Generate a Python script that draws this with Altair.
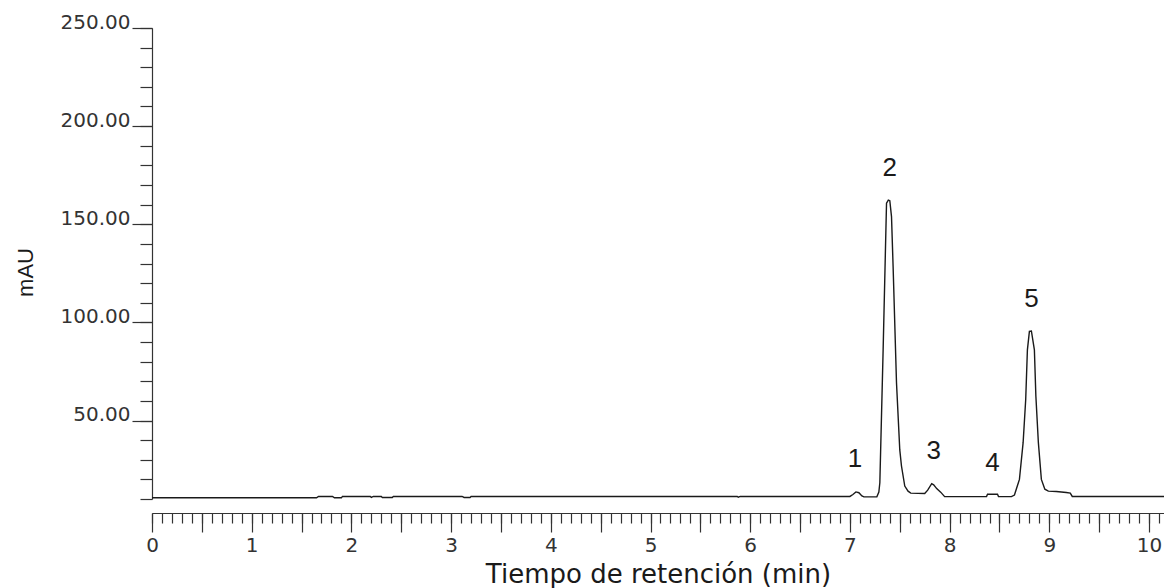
import altair as alt
import pandas as pd

# Chromatogram trace (time in min, absorbance in mAU)
time_min = [0.00, 1.65, 1.67, 1.81, 1.83, 1.90, 1.91, 2.19, 2.20, 2.22, 2.30, 2.31,
            2.41, 2.42, 3.11, 3.13, 3.19, 3.20, 5.87, 5.88, 5.90, 7.00, 7.03, 7.06,
            7.09, 7.12, 7.14, 7.27, 7.29, 7.30, 7.333, 7.367, 7.385, 7.40, 7.417,
            7.433, 7.467, 7.50, 7.517, 7.55, 7.583, 7.61, 7.75, 7.78, 7.82, 7.84,
            7.87, 7.91, 7.95, 8.37, 8.38, 8.48, 8.49, 8.62, 8.65, 8.70, 8.737,
            8.763, 8.78, 8.80, 8.82, 8.85, 8.865, 8.89, 8.92, 8.955, 8.99, 9.07,
            9.17, 9.21, 9.23, 10.15]
mau = [10.6, 10.6, 11.3, 11.3, 10.6, 10.6, 11.3, 11.3, 10.8, 11.3, 11.3, 10.8,
       10.8, 11.3, 11.3, 10.8, 10.8, 11.3, 11.3, 10.9, 11.3, 11.3, 12.3, 13.6,
       13.2, 11.6, 11.1, 11.1, 13.5, 18.3, 86.1, 160.7, 162.3, 162.0, 153.9,
       128.5, 69.2, 35.0, 26.8, 16.6, 14.0, 13.0, 12.8, 14.5, 17.8, 17.2,
       15.3, 13.5, 11.2, 11.2, 12.4, 12.4, 11.2, 11.2, 12.0, 20.0, 38.7,
       60.7, 86.0, 95.4, 95.6, 86.0, 62.4, 38.7, 20.0, 15.0, 14.0, 13.8,
       13.3, 13.0, 11.3, 11.3]

peak_labels = ["1", "2", "3", "4", "5"]
peak_label_time = [7.05, 7.40, 7.84, 8.43, 8.82]
peak_label_mau = [30.5, 178.5, 34.5, 28.5, 112.0]

y_major_ticks = [50, 100, 150, 200, 250]
y_minor_ticks = [10, 20, 30, 40, 50, 60, 70, 80, 90, 100, 110, 120, 130, 140, 150,
                 160, 170, 180, 190, 200, 210, 220, 230, 240, 250]
x_major_ticks = [0, 0.5, 1, 1.5, 2, 2.5, 3, 3.5, 4, 4.5, 5, 5.5, 6, 6.5, 7, 7.5,
                 8, 8.5, 9, 9.5, 10]
x_minor_ticks = [round(i / 10, 1) for i in range(0, 102)]

trace = pd.DataFrame({"t": time_min, "v": mau})
labels = pd.DataFrame({"t": peak_label_time, "v": peak_label_mau, "label": peak_labels})

AX = "#333333"
xscale = alt.Scale(domain=[0, 10.15], nice=False, zero=False)
yscale = alt.Scale(domain=[10, 250], nice=False, zero=False)

line = alt.Chart(trace).mark_line(color="#1a1a1a", strokeWidth=1.4, clip=False).encode(
    x=alt.X("t:Q", scale=xscale,
            axis=alt.Axis(orient="bottom", values=x_minor_ticks, tickSize=10, labels=False,
                          domain=True, offset=14, title=None, grid=False,
                          tickColor=AX, domainColor=AX, tickWidth=1.2, domainWidth=1.2)),
    y=alt.Y("v:Q", scale=yscale,
            axis=alt.Axis(orient="left", values=y_minor_ticks, tickSize=12, labels=False,
                          domain=True, title=None, grid=False,
                          tickColor=AX, domainColor=AX, tickWidth=1.2, domainWidth=1.2)),
)

text = alt.Chart(labels).mark_text(font="Liberation Sans", fontSize=26, color="#1a1a1a",
                                    baseline="middle", align="center").encode(
    x=alt.X("t:Q", scale=xscale,
            axis=alt.Axis(orient="bottom", values=x_major_ticks, tickSize=19, domain=False,
                          offset=14, grid=False, tickColor=AX, tickWidth=1.2,
                          labelExpr="datum.value % 1 == 0 ? format(datum.value, 'd') : ''",
                          labelFont="DejaVu Sans", labelFontSize=20, labelColor=AX,
                          labelPadding=3, labelOverlap=False, labelFlush=False,
                          title="Tiempo de retención (min)", titleFont="DejaVu Sans",
                          titleFontSize=26, titleFontWeight="normal", titleColor="#1a1a1a",
                          titlePadding=6)),
    y=alt.Y("v:Q", scale=yscale,
            axis=alt.Axis(orient="left", values=y_major_ticks, tickSize=20, domain=False,
                          grid=False, tickColor=AX, tickWidth=1.2, format=".2f",
                          labelFont="DejaVu Sans", labelFontSize=20, labelColor=AX,
                          labelPadding=2, labelBaseline="alphabetic", labelOverlap=False,
                          labelFlush=False,
                          title="mAU", titleFont="Liberation Sans", titleFontSize=22,
                          titleFontWeight="normal", titleColor="#1a1a1a",
                          titleX=-127, titleY=244, titleAlign="center",
                          titleBaseline="middle")),
    text="label:N",
)

chart = alt.layer(line, text).resolve_axis(x="independent", y="independent").properties(
    width=1012, height=471,
    autosize=alt.AutoSizeParams(type="none"),
    padding={"left": 152, "top": 28, "right": 0, "bottom": 89},
    background="white",
).configure_view(stroke=None)

chart.save("out.html", embed_options={"renderer": "svg", "actions": False})
